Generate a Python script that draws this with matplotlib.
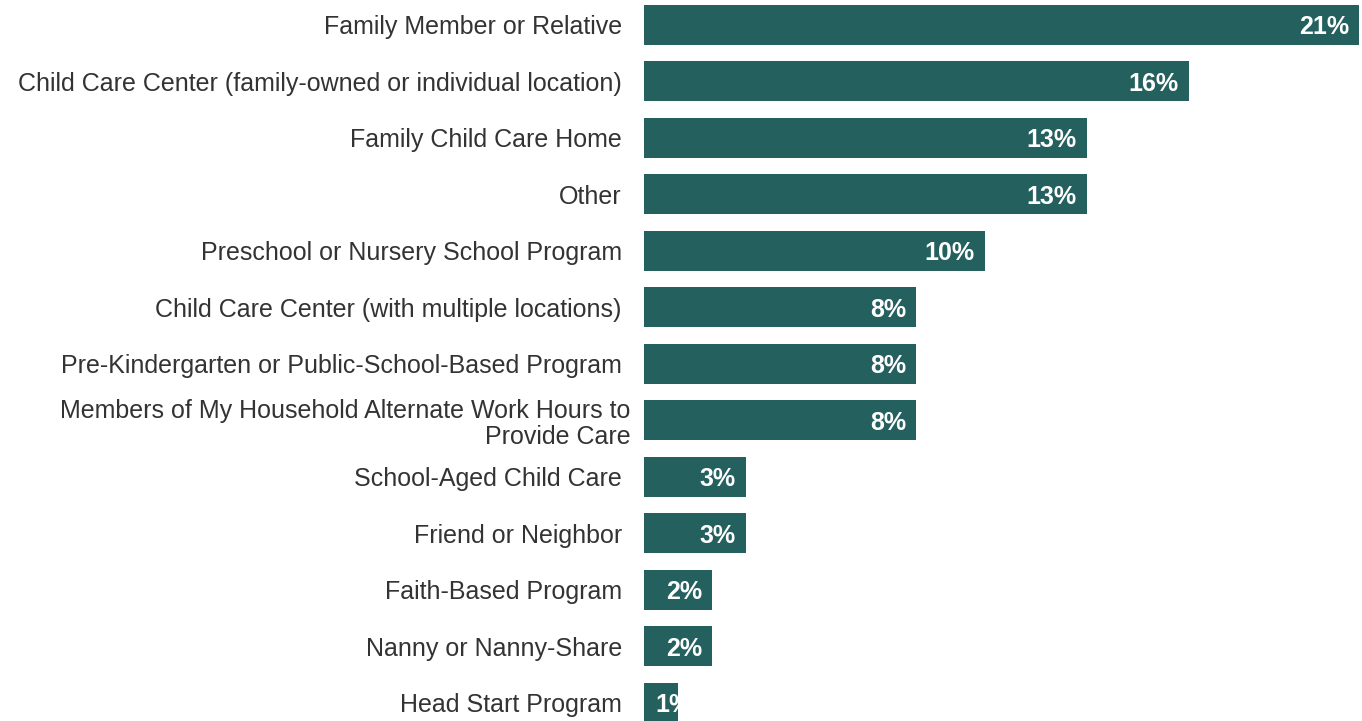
import matplotlib
matplotlib.use("Agg")
import matplotlib.pyplot as plt
from matplotlib.transforms import ScaledTranslation

# categories / values (percent)
categories = [
    "Family Member or Relative",
    "Child Care Center (family-owned or individual location)",
    "Family Child Care Home",
    "Other",
    "Preschool or Nursery School Program",
    "Child Care Center (with multiple locations)",
    "Pre-Kindergarten or Public-School-Based Program",
    "Members of My Household Alternate Work Hours to\nProvide Care",
    "School-Aged Child Care",
    "Friend or Neighbor",
    "Faith-Based Program",
    "Nanny or Nanny-Share",
    "Head Start Program",
]
values = [21, 16, 13, 13, 10, 8, 8, 8, 3, 3, 2, 2, 1]
value_labels = ["21%", "16%", "13%", "13%", "10%", "8%", "8%", "8%", "3%", "3%", "2%", "2%", "1%"]

plt.rcParams['font.family'] = ['Liberation Sans', 'DejaVu Sans']

W, H = 1362, 721
fig = plt.figure(figsize=(W / 100, H / 100), dpi=100)
ax = fig.add_axes([644 / W, 0, 1 - 644 / W, 1])

couleur = '#24605E'
pos = list(range(len(categories)))
bars = ax.barh(pos, values, height=0.71, color=couleur, edgecolor='none')

ax.set_xlim(0, 21.08)
ax.set_ylim(12.32, -0.44)
ax.set_yticks(pos)
ax.set_yticklabels(categories, fontsize=18, color='#333333', linespacing=1.1)
ax.tick_params(axis='y', length=0, pad=16)
ax.set_xticks([])
for s in ax.spines.values():
    s.set_visible(False)

# le libellé sur deux lignes est un peu plus à droite
for lbl in ax.get_yticklabels():
    if "\n" in lbl.get_text():
        lbl.set_transform(lbl.get_transform() + ScaledTranslation(0.09, 0, fig.dpi_scale_trans))

# valeurs dans les barres
for bar, v, lab in zip(bars, values, value_labels):
    y = bar.get_y() + bar.get_height() / 2
    if v < 2:
        t = ax.text(0.33, y + 0.04, lab, ha='left', va='center', color='white',
                    fontsize=18, fontweight='bold')
    else:
        t = ax.text(v - 0.3, y + 0.04, lab, ha='right', va='center', color='white',
                    fontsize=18, fontweight='bold')
    t.set_clip_path(bar)

fig.savefig("out.png", dpi=100)
